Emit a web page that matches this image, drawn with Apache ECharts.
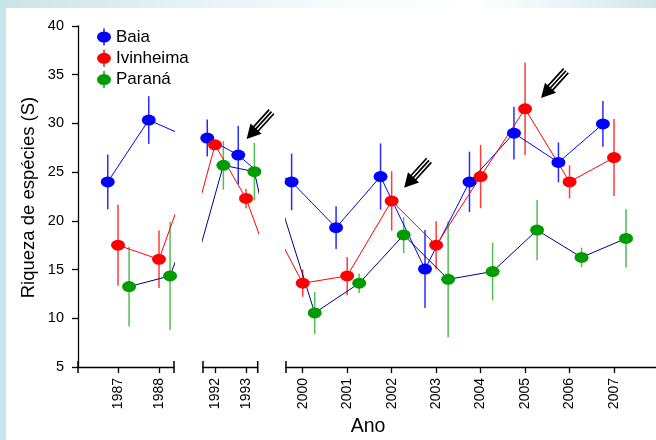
<!DOCTYPE html>
<html><head><meta charset="utf-8">
<script src="https://cdn.jsdelivr.net/npm/echarts@6/dist/echarts.min.js"></script>
<style>
html,body{margin:0;padding:0;background:#fff;}
#wrap{position:relative;width:656px;height:440px;overflow:hidden;background:#c8e4e8;}
#topband{position:absolute;left:0;top:0;width:656px;height:8px;background:linear-gradient(to right,#c8e4e8 0%,#e2f1f3 25%,#f6fbfb 50%,#ffffff 72%,#eaf5f6 86%,#cfe7ea 100%);}
#panel{position:absolute;left:6px;top:8px;width:650px;height:432px;background:#fff;}
#chart{position:absolute;left:0;top:0;width:656px;height:440px;}
</style></head><body>
<div id="wrap"><div id="topband"></div><div id="panel"></div><div id="chart"></div></div>
<script>
// ---- data ----
const years = ['1987','1988','1992','1993','2000','2001','2002','2003','2004','2005','2006','2007'];
const seriesNames = ['Baia', 'Ivinheima', 'Paraná'];
const baia        = [24.0, 30.35, 28.5, 26.75, 24.0, 19.3, 24.55, 15.05, 24.0, 29.0, 26.0, 29.95];
const baiaErr     = [2.8, 2.45, 1.9, 3.0, 2.9, 2.2, 3.4, 4.0, 3.1, 2.7, 2.05, 2.35];
const ivinheima   = [17.5, 16.05, 27.8, 22.3, 13.6, 14.35, 22.05, 17.5, 24.55, 31.5, 24.0, 26.5];
const ivinheimaErr= [4.15, 2.95, 0.4, 1.0, 1.4, 1.95, 3.05, 2.45, 3.25, 4.75, 1.7, 3.95];
const parana      = [13.25, 14.35, 25.7, 25.05, 10.55, 13.6, 18.55, 14.0, 14.8, 19.05, 16.25, 18.2];
const paranaErr   = [4.1, 5.55, 2.5, 2.95, 2.15, 1.0, 1.85, 5.95, 2.95, 3.1, 1.0, 3.0];
const yTicks = [5, 10, 15, 20, 25, 30, 35, 40];
const arrowYears = ['1993', '2002', '2005'];
const arrowValues = [28.4, 23.4, 32.6];
const xTitle = 'Ano';
const yTitle = 'Riqueza de espécies (S)';

// ---- layout / style ----
const FONT = '"Liberation Sans", Arial, sans-serif';
const ARROW_SHIFT = [0.02, 0.28, 0.36];
const OFFSETS = [-0.25, 0, 0.27];
const MARK_COLORS = ['#0000ff', '#ff0000', '#009c00'];
const LINE_COLORS = ['#0000ff', '#ff0000', '#000080'];
const BAR_COLORS = ['#2a2aff', '#ff3a3a', '#52bf52'];
const values = [baia, ivinheima, parana];
const errors = [baiaErr, ivinheimaErr, paranaErr];
const segments = [
  {years: ['1987','1988'], min: -0.976, max: 1.366, left: 78, width: 96, ends: ['rect','rect']},
  {years: ['1992','1993'], min: 1.613, max: 3.377, left: 203, width: 54.7, ends: ['rect','rect']},
  {years: ['2000','2001','2002','2003','2004','2005','2006','2007'], min: 3.624, max: 11.944, left: 286, width: 370, ends: ['rect','none']}
];
const ELLIPSE = 'path://M0,5.5A7,5.5 0 1,0 14,5.5A7,5.5 0 1,0 0,5.5Z';
const LEGEND_ICON = 'path://M0,8.5A7,5.5 0 1,0 14,8.5A7,5.5 0 1,0 0,8.5Z M6.3,0L6.3,17L7.7,17L7.7,0Z';

// arrow glyph (tip at origin, pointing down-left)
function buildArrow() {
  const L = Math.hypot(25, 27.5);
  const u = [25 / L, -27.5 / L];
  const n = [-u[1], u[0]];
  const head = 14, hw = 7.5, shaft = 23, gap = 3.1, th = 0.85;
  const B = [u[0] * head, u[1] * head];
  const polys = [[[0, 0], [B[0] + n[0] * hw, B[1] + n[1] * hw], [B[0] - n[0] * hw, B[1] - n[1] * hw]]];
  [-gap, 0, gap].forEach(o => {
    const c0 = [B[0] + n[0] * o, B[1] + n[1] * o];
    const c1 = [c0[0] + u[0] * shaft, c0[1] + u[1] * shaft];
    polys.push([
      [c0[0] + n[0] * th, c0[1] + n[1] * th], [c1[0] + n[0] * th, c1[1] + n[1] * th],
      [c1[0] - n[0] * th, c1[1] - n[1] * th], [c0[0] - n[0] * th, c0[1] - n[1] * th]
    ]);
  });
  let minX = Infinity, minY = Infinity, maxX = -Infinity, maxY = -Infinity;
  let d = '';
  polys.forEach(p => {
    p.forEach((pt, k) => {
      minX = Math.min(minX, pt[0]); maxX = Math.max(maxX, pt[0]);
      minY = Math.min(minY, pt[1]); maxY = Math.max(maxY, pt[1]);
      d += (k === 0 ? 'M' : 'L') + pt[0].toFixed(3) + ',' + pt[1].toFixed(3);
    });
    d += 'Z';
  });
  return {path: 'path://' + d, size: [maxX - minX, maxY - minY], offset: [(minX + maxX) / 2, (minY + maxY) / 2]};
}
const ARROW = buildArrow();

const grids = [], xAxes = [], yAxes = [], series = [];
const axisLineStyle = {color: '#000', width: 1.3};
segments.forEach((seg, g) => {
  const idx = seg.years.map(y => years.indexOf(y));
  grids.push({left: seg.left, top: 26, width: seg.width, height: 341, outerBoundsMode: 'none', containLabel: false});
  xAxes.push({
    gridIndex: g, type: 'value', min: seg.min, max: seg.max,
    axisLine: {show: true, onZero: false, lineStyle: axisLineStyle, symbol: seg.ends, symbolSize: [12, 1.5]},
    axisTick: {show: true, length: 6, inside: false, customValues: idx, lineStyle: axisLineStyle},
    axisLabel: {show: true, customValues: idx, rotate: 90, margin: 11, fontSize: 14, fontFamily: FONT, color: '#000',
      formatter: v => years[Math.round(v)]},
    splitLine: {show: false}
  });
  yAxes.push({
    gridIndex: g, type: 'value', min: yTicks[0], max: yTicks[yTicks.length - 1], interval: 5, show: g === 0,
    axisLine: {show: true, onZero: false, lineStyle: axisLineStyle},
    axisTick: {show: true, length: 6, inside: false, lineStyle: axisLineStyle},
    axisLabel: {show: true, margin: 14, fontSize: 14.5, fontFamily: FONT, color: '#000'},
    splitLine: {show: false}
  });
  values.forEach((vals, s) => {
    series.push({
      type: 'custom', name: seriesNames[s] + ' err', xAxisIndex: g, yAxisIndex: g, clip: true, z: 2,
      silent: true,
      data: vals.map((v, i) => [i + OFFSETS[s], v, errors[s][i]]),
      encode: {x: 0, y: 1},
      renderItem: (params, api) => {
        const x = api.value(0), y = api.value(1), e = api.value(2);
        const p1 = api.coord([x, y - e]), p2 = api.coord([x, y + e]);
        return {type: 'line', shape: {x1: p1[0], y1: p1[1], x2: p2[0], y2: p2[1]},
          style: {stroke: BAR_COLORS[s], lineWidth: 1.5}};
      }
    });
  });
  values.forEach((vals, s) => {
    series.push({
      type: 'line', name: seriesNames[s], xAxisIndex: g, yAxisIndex: g, clip: true, z: 3,
      data: vals.map((v, i) => [i + OFFSETS[s], v]),
      symbol: ELLIPSE, symbolSize: [14, 11], showAllSymbol: true, silent: true,
      lineStyle: {color: LINE_COLORS[s], width: 1},
      itemStyle: {color: MARK_COLORS[s], borderWidth: 0},
      emphasis: {disabled: true}
    });
  });
  series.push({
    type: 'scatter', name: 'arrows', xAxisIndex: g, yAxisIndex: g, clip: true, z: 4, silent: true,
    data: arrowYears.map((y, k) => [years.indexOf(y) + ARROW_SHIFT[k], arrowValues[k]]),
    symbol: ARROW.path, symbolSize: ARROW.size, symbolOffset: ARROW.offset,
    itemStyle: {color: '#000', opacity: 1}, emphasis: {disabled: true}
  });
});

const chart = echarts.init(document.getElementById('chart'), null, {renderer: 'canvas'});
chart.setOption({
  animation: false,
  backgroundColor: 'transparent',
  grid: grids, xAxis: xAxes, yAxis: yAxes, series: series,
  legend: {
    data: seriesNames, orient: 'vertical', left: 92, top: 23.5, itemWidth: 14, itemHeight: 17, itemGap: 4.3,
    icon: LEGEND_ICON, selectedMode: false,
    itemStyle: {borderWidth: 0},
    textStyle: {fontSize: 17, fontFamily: FONT, color: '#000', lineHeight: 17}
  },
  graphic: [
    {type: 'text', x: 368, y: 427, silent: true,
      style: {text: xTitle, font: '19.5px ' + FONT, align: 'center', verticalAlign: 'middle', fill: '#000'}},
    {type: 'text', x: 29, y: 197.5, rotation: Math.PI / 2, silent: true,
      style: {text: yTitle, font: '18.5px ' + FONT, align: 'center', verticalAlign: 'middle', fill: '#000'}}
  ]
});
</script>
</body></html>
